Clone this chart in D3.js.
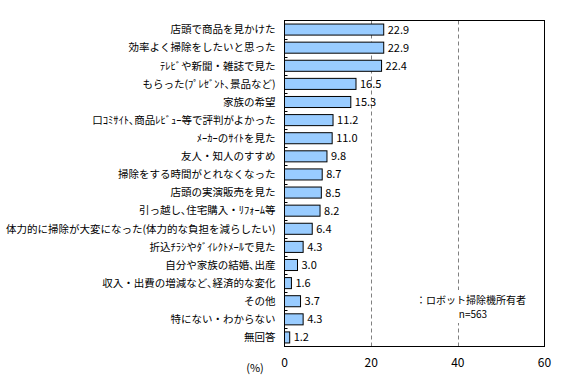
<!DOCTYPE html>
<html><head><meta charset="utf-8">
<script src="https://cdn.jsdelivr.net/npm/d3@7"></script>
<style>body{margin:0;background:#fff}svg{display:block}text{font-family:"Noto Sans CJK JP","Noto Sans",sans-serif}</style>
</head><body><svg id="c" width="573" height="391"></svg>
<script>
const categories = [
 "店頭で商品を見かけた",
 "効率よく掃除をしたいと思った",
 "ﾃﾚﾋﾞや新聞・雑誌で見た",
 "もらった(ﾌﾟﾚｾﾞﾝﾄ､景品など)",
 "家族の希望",
 "口ｺﾐｻｲﾄ､商品ﾚﾋﾞｭｰ等で評判がよかった",
 "ﾒｰｶｰのｻｲﾄを見た",
 "友人・知人のすすめ",
 "掃除をする時間がとれなくなった",
 "店頭の実演販売を見た",
 "引っ越し､住宅購入・ﾘﾌｫｰﾑ等",
 "体力的に掃除が大変になった(体力的な負担を減らしたい)",
 "折込ﾁﾗｼやﾀﾞｲﾚｸﾄﾒｰﾙで見た",
 "自分や家族の結婚､出産",
 "収入・出費の増減など､経済的な変化",
 "その他",
 "特にない・わからない",
 "無回答"
];
const values = [22.9,22.9,22.4,16.5,15.3,11.2,11.0,9.8,8.7,8.5,8.2,6.4,4.3,3.0,1.6,3.7,4.3,1.2];
const xTicks = [0,20,40,60];
const legendText = "：ロボット掃除機所有者";
const nText = "n=563";
const unitText = "(%)";

const svg = d3.select("#c");
const L=284.5, R=544.5, T=20.5, B=346.5;
const x = d3.scaleLinear().domain([0,60]).range([L,R]);
const y = d3.scaleBand().domain(categories).range([T,B]).paddingInner(0.39).paddingOuter(0.195);

// grid
svg.append("g").selectAll("line").data(xTicks.filter(d=>d>0&&d<60)).join("line")
 .attr("x1",d=>Math.round(x(d))+0.5).attr("x2",d=>Math.round(x(d))+0.5)
 .attr("y1",T).attr("y2",B).attr("stroke","#808080").attr("stroke-dasharray","4,3");

// bars
svg.append("g").selectAll("rect").data(values).join("rect")
 .attr("x",x(0)).attr("y",(d,i)=>y(categories[i]))
 .attr("width",d=>x(d)-x(0)).attr("height",y.bandwidth())
 .attr("fill","#99CCFF").attr("stroke","#000").attr("stroke-width",1);

// value labels
svg.append("g").selectAll("text").data(values).join("text")
 .attr("x",d=>x(d)+4).attr("y",(d,i)=>y(categories[i])+y.bandwidth()/2)
 .attr("dy","0.36em").attr("font-size",11).text(d=>d.toFixed(1));

// frame
svg.append("rect").attr("x",L).attr("y",T).attr("width",R-L).attr("height",B-T)
 .attr("fill","none").attr("stroke","#000").attr("stroke-width",1);

// y boundary ticks
const step = y.step();
svg.append("g").selectAll("line").data(d3.range(1,categories.length)).join("line")
 .attr("x1",L).attr("x2",L+3)
 .attr("y1",i=>Math.round(T+i*step)+0.5).attr("y2",i=>Math.round(T+i*step)+0.5)
 .attr("stroke","#000");

// category labels
svg.append("g").selectAll("text").data(categories).join("text")
 .attr("x",L-9).attr("y",d=>y(d)+y.bandwidth()/2).attr("dy","0.36em")
 .attr("text-anchor","end").attr("font-size",10.5).text(d=>d);

// x tick labels
svg.append("g").selectAll("text").data(xTicks).join("text")
 .attr("x",d=>x(d)).attr("y",367).attr("text-anchor","middle").attr("font-size",12).text(d=>d);

svg.append("text").attr("x",255).attr("y",372).attr("text-anchor","middle").attr("font-size",11).text(unitText);

// legend box (white background)
svg.append("rect").attr("x",413).attr("y",290).attr("width",118).attr("height",33).attr("fill","#fff");
svg.append("text").attr("x",416).attr("y",304).attr("font-size",10).text(legendText);
svg.append("text").attr("x",473).attr("y",318).attr("text-anchor","middle").attr("font-size",10).text(nText);
</script></body></html>
